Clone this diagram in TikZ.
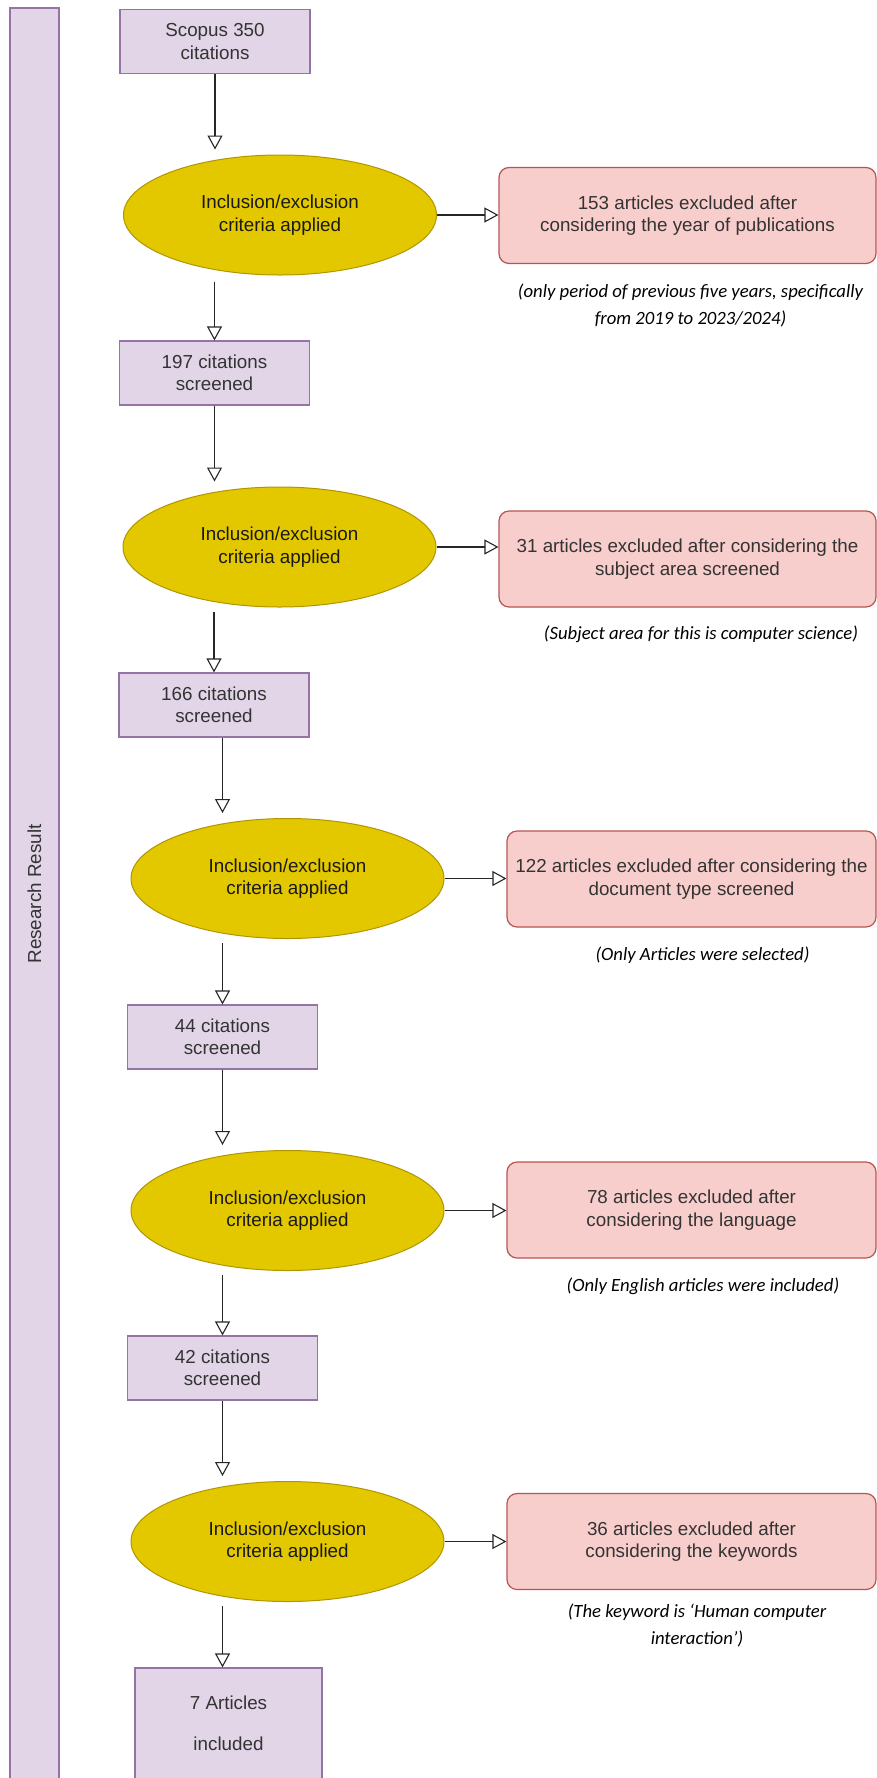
\documentclass[tikz,border=0pt]{standalone}
\usepackage{fontspec}
\setmainfont{Liberation Sans}
\newfontfamily\notefont{Carlito}
\usetikzlibrary{shapes.geometric,arrows.meta}
\definecolor{lanefill}{HTML}{E1D5E7}
\definecolor{lanedraw}{HTML}{9673A6}
\definecolor{critfill}{HTML}{E3C800}
\definecolor{critdraw}{HTML}{B09500}
\definecolor{exclfill}{HTML}{F8CECC}
\definecolor{excldraw}{HTML}{B85450}
\begin{document}
\begin{tikzpicture}[x=0.5pt,y=-0.5pt,
		boxtext/.style={font=\fontsize{9.4}{11.2}\selectfont,text=black!80,align=center,inner sep=0pt},
		stage/.style={boxtext,draw=lanedraw,fill=lanefill,line width=0.6pt,minimum width=95pt,minimum height=32pt},
		crit/.style={boxtext,ellipse,draw=critdraw,fill=critfill,line width=0.5pt,minimum width=156.5pt,minimum height=60pt,text=black!90},
		excl/.style={boxtext,draw=excldraw,fill=exclfill,line width=0.6pt,rounded corners=5pt,minimum width=184.5pt,minimum height=48pt},
		note/.style={font=\notefont\itshape\fontsize{9.35}{13.5}\selectfont,align=center,inner sep=0pt},
		flow/.style={draw=black!85,line width=0.55pt,-{Triangle[open,length=7pt,width=7.5pt]}}]
				\useasboundingbox (0,0) rectangle (877,1778);
				% side lane
				\node (lane) [stage,rotate=90,minimum width=886pt,minimum height=24.5pt] at (34.5,894) {Research Result};
				% main column
				\node (scopus) [stage] at (215,41.5) {Scopus 350\\citations};
				\node (crit1) [crit] at (280,215) {Inclusion/exclusion\\criteria applied};
				\node (excl1) [excl,minimum width=188.5pt] at (687.5,215.5) {153 articles excluded after\\considering the year of publications};
				\node (note1) [note] at (690.5,305.5) {(only period of previous five years, specifically\\from 2019 to 2023/2024)};
				\node (cite197) [stage] at (214.5,373) {197 citations\\screened};
				\node (crit2) [crit] at (279.5,547) {Inclusion/exclusion\\criteria applied};
				\node (excl2) [excl,minimum width=188.5pt] at (687.5,559) {31 articles excluded after considering the\\subject area screened};
				\node (note2) [note] at (701,634) {(Subject area for this is computer science)};
				\node (cite166) [stage] at (214,705) {166 citations\\screened};
				\node (crit3) [crit] at (287.5,878.5) {Inclusion/exclusion\\criteria applied};
				\node (excl3) [excl] at (691.5,879) {122 articles excluded after considering the\\document type screened};
				\node (note3) [note] at (702.5,955) {(Only Articles were selected)};
				\node (cite44) [stage] at (222.5,1037) {44 citations\\screened};
				\node (crit4) [crit] at (287.5,1210.5) {Inclusion/exclusion\\criteria applied};
				\node (excl4) [excl] at (691.5,1210) {78 articles excluded after\\considering the language};
				\node (note4) [note] at (703,1286) {(Only English articles were included)};
				\node (cite42) [stage] at (222.5,1368) {42 citations\\screened};
				\node (crit5) [crit] at (287.5,1541.5) {Inclusion/exclusion\\criteria applied};
				\node (excl5) [excl] at (691.5,1541.5) {36 articles excluded after\\considering the keywords};
				\node (note5) [note] at (697,1625) {(The keyword is ‘Human computer\\interaction’)};
				\node (final) [stage,minimum width=93.5pt,minimum height=55.5pt,font=\fontsize{9.4}{20.5}\selectfont] at (228.5,1723.5) {7 Articles\\included};
				% downward flow
				\draw[flow,shorten >=2.5pt] (scopus.south) -- (scopus.south |- crit1.north);
				\draw[flow,shorten <=3pt] (crit1.south -| cite197.north) -- (cite197.north);
				\draw[flow,shorten >=2.5pt] (cite197.south) -- (cite197.south |- crit2.north);
				\draw[flow,shorten <=2pt] (crit2.south -| cite166.north) -- (cite166.north);
				\draw[flow,shorten >=2.5pt] (cite166.south -| cite44.north) -- (cite44.north |- crit3.north);
				\draw[flow,shorten <=2pt] (crit3.south -| cite44.north) -- (cite44.north);
				\draw[flow,shorten >=2.5pt] (cite44.south) -- (cite44.south |- crit4.north);
				\draw[flow,shorten <=2pt] (crit4.south -| cite42.north) -- (cite42.north);
				\draw[flow,shorten >=2.5pt] (cite42.south) -- (cite42.south |- crit5.north);
				\draw[flow,shorten <=2pt] (crit5.south -| cite42.north) -- (cite42.north |- final.north);
				% exclusions
				\draw[flow] (crit1.east) -- (crit1.east -| excl1.west);
				\draw[flow] (crit2.east) -- (crit2.east -| excl2.west);
				\draw[flow] (crit3.east) -- (crit3.east -| excl3.west);
				\draw[flow] (crit4.east) -- (crit4.east -| excl4.west);
				\draw[flow] (crit5.east) -- (crit5.east -| excl5.west);
\end{tikzpicture}
\end{document}
